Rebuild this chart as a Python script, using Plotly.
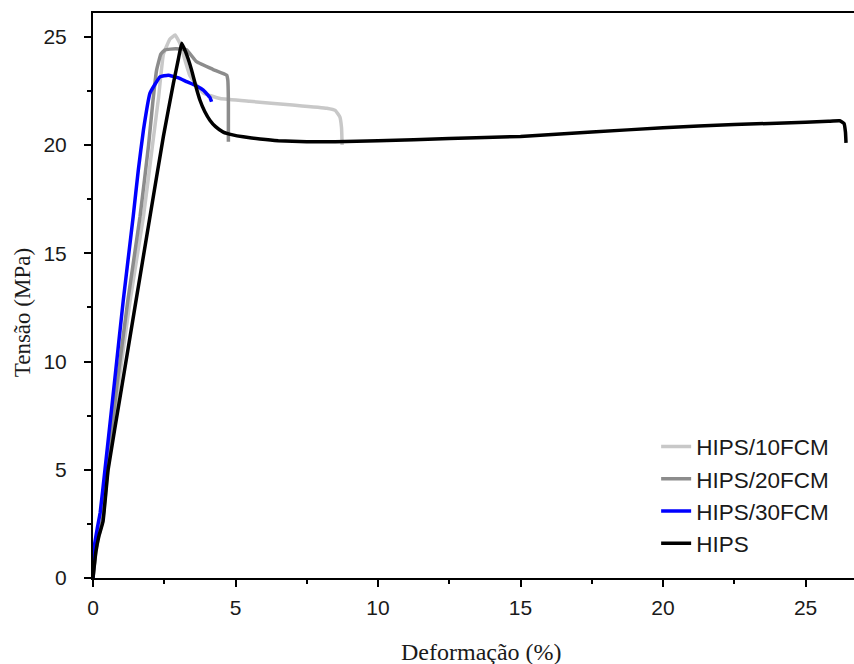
import plotly.graph_objects as go

# ---- data ----
names = ["HIPS/10FCM", "HIPS/20FCM", "HIPS/30FCM", "HIPS"]
colors = ["#c8c8c8", "#8c8c8c", "#0000ff", "#000000"]

x_10 = [0, 0.1, 0.2, 0.35, 0.52, 0.9, 1.3, 1.77, 2.05, 2.3, 2.47, 2.7, 2.88, 3.05, 3.4, 3.87,
        4.46, 5.5, 7.0, 8.2, 8.5, 8.66, 8.72, 8.74]
y_10 = [0, 1.2, 1.9, 2.7, 5.0, 9.0, 12.8, 16.7, 19.6, 22.2, 24.2, 24.9, 25.08, 24.7, 23.2, 22.4,
        22.15, 22.02, 21.85, 21.7, 21.6, 21.3, 20.8, 20.0]

x_20 = [0, 0.1, 0.2, 0.35, 0.5, 0.85, 1.22, 1.65, 1.95, 2.1, 2.23, 2.38, 2.53, 2.9, 3.28, 3.63,
        4.2, 4.69, 4.73, 4.75, 4.75]
y_20 = [0, 1.3, 2.0, 2.8, 5.0, 9.0, 12.8, 16.7, 20.0, 22.0, 23.45, 24.2, 24.4, 24.45, 24.4, 23.85,
        23.5, 23.23, 23.0, 22.0, 20.15]

x_30 = [0, 0.05, 0.15, 0.25, 0.42, 0.75, 1.06, 1.41, 1.59, 1.77, 2.0, 2.35, 2.64, 3.0, 3.28,
        3.6, 3.87, 4.1, 4.16]
y_30 = [0, 1.5, 2.3, 3.0, 5.0, 9.0, 12.8, 16.7, 18.85, 20.7, 22.4, 23.15, 23.23, 23.1, 22.93,
        22.75, 22.54, 22.2, 22.0]

x_hips = [0, 0.1, 0.2, 0.35, 0.53, 1.0, 1.47, 2.0, 2.47, 2.82, 3.0, 3.11, 3.25, 3.46, 3.6,
          3.75, 3.92, 4.1, 4.3, 4.57, 4.9, 5.27, 5.86, 6.5, 7.5, 8.5, 10, 12.5, 15, 17.5, 20,
          22.5, 25, 25.8, 26.2, 26.35, 26.4, 26.42]
y_hips = [0, 1.2, 1.9, 2.6, 5.0, 8.75, 12.5, 16.7, 20.4, 22.85, 24.0, 24.7, 24.3, 23.46, 22.75,
          22.08, 21.55, 21.15, 20.85, 20.6, 20.47, 20.38, 20.28, 20.2, 20.15, 20.15, 20.2, 20.3,
          20.4, 20.6, 20.8, 20.95, 21.05, 21.1, 21.12, 21.0, 20.6, 20.1]

xs = [x_10, x_20, x_30, x_hips]
ys = [y_10, y_20, y_30, y_hips]

x_title = "Deformação (%)"
y_title = "Tensão (MPa)"

fig = go.Figure()
for n, c, xv, yv in zip(names, colors, xs, ys):
    fig.add_trace(go.Scatter(x=xv, y=yv, mode="lines", name=n,
                             line=dict(color=c, width=3.5, shape="spline", smoothing=0.3)))

tick_font = dict(family="Liberation Sans, Arial, sans-serif", size=21, color="#1a1a1a")
axis_common = dict(showgrid=False, zeroline=False, showline=True, linecolor="black",
                   linewidth=2, ticks="outside", ticklen=7, tickwidth=2, tickcolor="black",
                   tickfont=tick_font, dtick=5, tick0=0)

fig.update_layout(
    width=854, height=664,
    margin=dict(l=93, r=0, t=13, b=86),
    paper_bgcolor="white", plot_bgcolor="white",
    xaxis=dict(range=[0, 26.7], mirror=True, ticklabelstandoff=3,
               minor=dict(dtick=2.5, ticklen=4, tickwidth=2, tickcolor="black", ticks="outside"),
               **axis_common),
    yaxis=dict(range=[0, 26.1], ticklabelstandoff=13,
               minor=dict(dtick=2.5, ticklen=4, tickwidth=2, tickcolor="black", ticks="outside"),
               **axis_common),
    legend=dict(x=0.740, y=0.270, xanchor="left", yanchor="top",
                bgcolor="rgba(0,0,0,0)", borderwidth=0,
                font=dict(family="Liberation Sans, Arial, sans-serif", size=22.5, color="#1a1a1a")),
    showlegend=True,
    annotations=[
        dict(text=x_title, xref="paper", yref="paper", x=0.51, y=-0.131,
             xanchor="center", yanchor="middle", showarrow=False,
             font=dict(family="Liberation Serif, Times New Roman, serif", size=24, color="#1a1a1a")),
        dict(text=y_title, xref="paper", yref="paper", x=-0.093, y=0.469, textangle=-90,
             xanchor="center", yanchor="middle", showarrow=False,
             font=dict(family="Liberation Serif, Times New Roman, serif", size=23, color="#1a1a1a")),
    ],
)

fig.write_html("out.html", config={"displayModeBar": False},
               post_script="document.body.style.margin='0';document.body.style.overflow='hidden';")
